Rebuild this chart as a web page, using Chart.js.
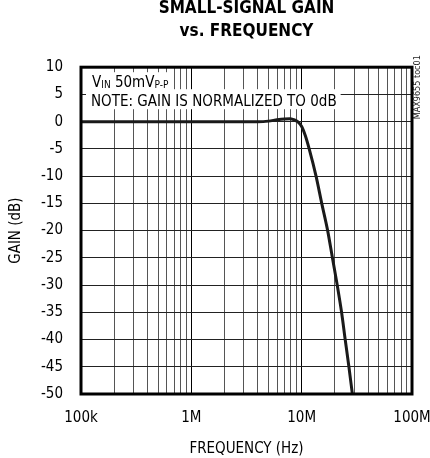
<!DOCTYPE html>
<html>
<head>
<meta charset="utf-8">
<script src="https://cdn.jsdelivr.net/npm/chart.js@4"></script>
<style>
  html, body { margin: 0; padding: 0; background: #fff; }
  #wrap { width: 430px; height: 458px; }
</style>
</head>
<body>
<div id="wrap"><canvas id="gainChart" width="430" height="458"></canvas></div>
<script>
// data
const freqHz = [1e5, 1e6, 4e6, 5e6, 6e6, 7e6, 7.8e6, 8.5e6, 9.2e6, 10e6, 10.8e6, 11.7e6, 13.5e6, 15.2e6, 17.2e6, 19e6, 21e6, 23e6, 24.8e6, 26.8e6, 28.8e6];
const gainDb = [0, 0, 0, 0.1, 0.35, 0.5, 0.55, 0.35, 0, -0.9, -2.6, -5, -10, -15, -20, -25, -30, -35, -40, -45, -50];

const xTickLabels = { 1e5: '100k', 1e6: '1M', 1e7: '10M', 1e8: '100M' };
const decades = [1e5, 1e6, 1e7];

const FONT = "'Liberation Sans Narrow', 'DejaVu Sans Condensed', 'Arial Narrow', sans-serif";

const points = freqHz.map((f, i) => ({ x: f, y: gainDb[i] }));

// frame + notes drawn on top of the grid
const notesPlugin = {
    id: 'notes',
    afterDatasetsDraw(chart) {
        const ctx = chart.ctx;
        const a = chart.chartArea;
        ctx.save();
        ctx.textBaseline = 'alphabetic';

        // line 1: VIN 50mVP-P
        const parts = [['V', 15, 0], ['IN', 10, 1], [' 50mV', 15, 0], ['P-P', 10, 1]];
        let w = 0;
        parts.forEach(p => { ctx.font = p[1] + 'px ' + FONT; w += ctx.measureText(p[0]).width; });
        ctx.font = '15px ' + FONT;
        const note = 'NOTE: GAIN IS NORMALIZED TO 0dB';
        const nw = ctx.measureText(note).width;
        ctx.fillStyle = '#fff';
        ctx.fillRect(a.left + 5, a.top + 5, w + 9, 18);
        ctx.fillRect(a.left + 5, a.top + 22, nw + 9, 20);

        ctx.fillStyle = '#000';
        let x = a.left + 11;
        parts.forEach(p => {
            ctx.font = p[1] + 'px ' + FONT;
            ctx.fillText(p[0], x, a.top + 20 + p[2]);
            x += ctx.measureText(p[0]).width;
        });
        ctx.font = '15px ' + FONT;
        ctx.fillText(note, a.left + 10, a.top + 39);

        // plot frame
        ctx.strokeStyle = '#000';
        ctx.lineWidth = 3;
        ctx.strokeRect(a.left, a.top, a.right - a.left, a.bottom - a.top);

        // side tag
        ctx.translate(a.right + 6, a.top + 20);
        ctx.rotate(-Math.PI / 2);
        ctx.font = '9px ' + FONT;
        ctx.textAlign = 'center';
        ctx.textBaseline = 'middle';
        ctx.fillStyle = '#222';
        ctx.fillText('MAX9655 toc01', 0, 0);
        ctx.restore();
    }
};

new Chart(document.getElementById('gainChart'), {
    type: 'line',
    data: {
        datasets: [{
            data: points,
            borderColor: '#1a1a1a',
            borderWidth: 3,
            pointRadius: 0,
            cubicInterpolationMode: 'monotone'
        }]
    },
    options: {
        responsive: false,
        animation: false,
        layout: { padding: { left: 0, right: 0, top: 0, bottom: 0 } },
        plugins: {
            legend: { display: false },
            tooltip: { enabled: false },
            title: {
                display: true,
                fullSize: false,
                text: ['SMALL-SIGNAL GAIN', 'vs. FREQUENCY'],
                color: '#000',
                font: { family: FONT, size: 17, weight: 'bold', lineHeight: 1.3 },
                padding: { top: -2, bottom: 25 }
            }
        },
        scales: {
            x: {
                type: 'logarithmic',
                min: 1e5,
                max: 1e8,
                afterBuildTicks(scale) {
                    const t = [];
                    decades.forEach(d => { for (let m = 1; m < 10; m++) t.push({ value: d * m }); });
                    t.push({ value: 1e8 });
                    scale.ticks = t;
                },
                afterFit(scale) {
                    scale.height = 64;
                    scale.paddingRight = 18;
                },
                ticks: {
                    autoSkip: false,
                    maxRotation: 0,
                    padding: 15,
                    color: '#000',
                    font: { family: FONT, size: 15 },
                    callback: v => xTickLabels[v] || ''
                },
                grid: {
                    drawTicks: false,
                    color: c => (xTickLabels[c.tick.value] ? '#000' : '#555'),
                    lineWidth: 1
                },
                border: { display: false },
                title: {
                    display: true,
                    text: 'FREQUENCY (Hz)',
                    color: '#000',
                    font: { family: FONT, size: 15 },
                    padding: { top: 6, bottom: 0 }
                }
            },
            y: {
                min: -50,
                max: 10,
                afterFit(scale) { scale.width = 81; },
                ticks: {
                    stepSize: 5,
                    padding: 18,
                    color: '#000',
                    font: { family: FONT, size: 15 }
                },
                grid: {
                    drawTicks: false,
                    color: '#222',
                    lineWidth: 1
                },
                border: { display: false },
                title: {
                    display: true,
                    text: 'GAIN (dB)',
                    color: '#000',
                    font: { family: FONT, size: 15 },
                    padding: { top: 7, bottom: 0 }
                }
            }
        }
    },
    plugins: [notesPlugin]
});
</script>
</body>
</html>
